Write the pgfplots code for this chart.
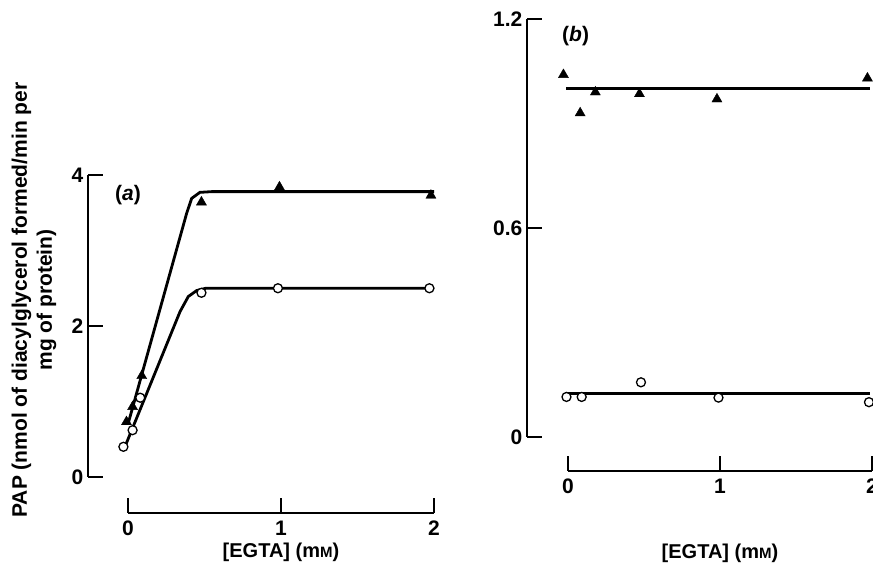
\documentclass[border=0pt]{standalone}
\usepackage{fontspec}
\setmainfont{Liberation Sans}
\usepackage{pgfplots}
\pgfplotsset{compat=1.18}

\newcommand{\mM}{m{\fontsize{15}{15}\selectfont M}}

\pgfplotsset{
  yonly/.style={scale only axis, clip=false, width=1pt, xmin=0, xmax=1, xtick=\empty,
    axis x line=none, axis y line=left,
    y axis line style={-, line width=2.6pt},
    tick align=inside, major tick length=15pt,
    every tick/.append style={line width=2.6pt, black},
    line width=2.6pt,
    tick label style={font=\fontsize{21}{25}\selectfont\bfseries},
    /pgf/number format/assume math mode=true},
  xonly/.style={scale only axis, clip=false, height=1pt, ymin=0, ymax=1, ytick=\empty,
    axis y line=none, axis x line=bottom,
    x axis line style={-, line width=2.6pt},
    xmin=0, xmax=2, xtick={0,1,2},
    tick align=inside, major tick length=15pt,
    every tick/.append style={line width=2.6pt, black},
    line width=2.6pt,
    tick label style={font=\fontsize{21}{25}\selectfont\bfseries},
    xticklabel style={yshift=-3pt},
    /pgf/number format/assume math mode=true},
  data/.style={scale only axis, clip=false, axis lines=left,
    axis line style={draw=none}, xtick=\empty, ytick=\empty, xmin=0, xmax=2,
    label style={font=\fontsize{20}{26}\selectfont\bfseries}},
  fit/.style={black, line width=2.8pt, no marks},
  tri/.style={only marks, mark=triangle*, mark size=5.8pt, mark options={fill=black, draw=black, line width=0.4pt}},
  circ/.style={only marks, mark=*, mark size=4.5pt, mark options={fill=white, draw=black, line width=1.3pt}},
}

\begin{document}
\begin{tikzpicture}[x=1pt,y=1pt]
\useasboundingbox (0,0) rectangle (873,570);

% panel (a): axes
\begin{axis}[yonly, at={(88pt,93pt)}, anchor=south west, height=302pt,
  ymin=0, ymax=4, ytick={0,2,4}]
\end{axis}
\begin{axis}[xonly, at={(128pt,57pt)}, anchor=south west, width=306pt]
\end{axis}
% panel (a): data
\begin{axis}[data,
  at={(128pt,93pt)}, anchor=south west,
  width=306pt, height=302pt, ymin=0, ymax=4,
  xlabel={[EGTA] (\mM)},
  xlabel style={at={(axis description cs:0.5,-0.25)}, anchor=center},
  ylabel={PAP (nmol of diacylglycerol formed/min per\\mg of protein)},
  ylabel style={align=center, font=\fontsize{21}{25}\selectfont\bfseries,
    at={(axis description cs:-0.307,0.586)}, anchor=center},
]
\addplot[fit] coordinates {(0,0.70) (0.383,3.49) (0.416,3.69) (0.47,3.77) (0.55,3.78) (2,3.78)};
\addplot[fit] coordinates {(-0.02,0.40) (0.34,2.19) (0.394,2.39) (0.449,2.47) (0.51,2.50) (2,2.50)};
\addplot[tri] coordinates {(-0.01,0.73) (0.03,0.93) (0.09,1.34) (0.48,3.64) (0.99,3.84) (1.98,3.73)};
\addplot[circ] coordinates {(-0.03,0.40) (0.03,0.62) (0.08,1.05) (0.48,2.44) (0.98,2.50) (1.97,2.50)};
\node[font=\fontsize{21}{25}\selectfont\bfseries] at (axis cs:0.0,3.73) {(\textit{a})};
\end{axis}

% panel (b): axes
\begin{axis}[yonly, at={(527pt,133pt)}, anchor=south west, height=418pt,
  ymin=0, ymax=1.2, ytick={0,0.6,1.2}, yticklabels={0,0.6,1.2}]
\end{axis}
\begin{axis}[xonly, at={(568pt,99pt)}, anchor=south west, width=304pt]
\end{axis}
% panel (b): data
\begin{axis}[data,
  at={(568pt,133pt)}, anchor=south west,
  width=304pt, height=418pt, ymin=0, ymax=1.2,
  xlabel={[EGTA] (\mM)},
  xlabel style={at={(axis description cs:0.5,-0.278)}, anchor=center},
]
\addplot[fit] coordinates {(-0.01,1.0) (1.99,1.0)};
\addplot[fit] coordinates {(-0.01,0.124) (1.99,0.124)};
\addplot[tri] coordinates {(-0.03,1.04) (0.08,0.93) (0.18,0.99) (0.47,0.985) (0.98,0.97) (1.97,1.03)};
\addplot[circ] coordinates {(-0.01,0.115) (0.09,0.115) (0.48,0.157) (0.99,0.113) (1.98,0.10)};
\node[font=\fontsize{21}{25}\selectfont\bfseries] at (axis cs:0.05,1.15) {(\textit{b})};
\end{axis}
\end{tikzpicture}
\end{document}
